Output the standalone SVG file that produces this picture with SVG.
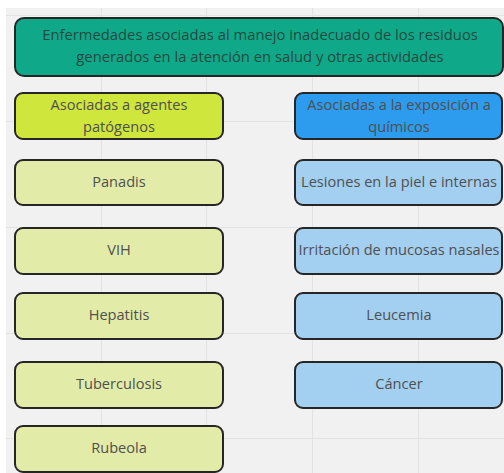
<svg xmlns="http://www.w3.org/2000/svg" width="504" height="473" viewBox="0 0 504 473">
<style>
.box{stroke:#262626;stroke-width:2}
.t{font-family:"Open Sans","Liberation Sans",sans-serif;font-size:14.6px;text-anchor:middle;fill:#505050}
.tt{fill:#234a3f;font-size:14.8px}
.grid{stroke:#e2e2e2;stroke-width:1}
</style>
<rect x="0" y="0" width="504" height="473" fill="#ffffff"/>
<rect x="6" y="8" width="498" height="465" fill="#f1f1f1"/>
<g class="grid">
<line x1="101.5" y1="8" x2="101.5" y2="473"/>
<line x1="206.5" y1="8" x2="206.5" y2="473"/>
<line x1="312.5" y1="8" x2="312.5" y2="473"/>
<line x1="418.5" y1="8" x2="418.5" y2="473"/>
<line x1="6" y1="15.5" x2="504" y2="15.5"/>
<line x1="6" y1="121.5" x2="504" y2="121.5"/>
<line x1="6" y1="227.5" x2="504" y2="227.5"/>
<line x1="6" y1="333.5" x2="504" y2="333.5"/>
<line x1="6" y1="438.5" x2="504" y2="438.5"/>
</g>
<g id="title">
<rect class="box" x="15" y="18" width="488" height="58" rx="9" fill="#0fa98a"/>
<text class="t tt" x="260" y="40">Enfermedades asociadas al manejo inadecuado de los residuos</text>
<text class="t tt" x="260" y="62">generados en la atención en salud y otras actividades</text>
</g>
<g id="hdr-left">
<rect class="box" x="15" y="93" width="208" height="46" rx="8" fill="#cfe63c"/>
<text class="t" x="119" y="110">Asociadas a agentes</text>
<text class="t" x="119" y="132">patógenos</text>
</g>
<g id="hdr-right">
<rect class="box" x="295" y="93" width="207" height="46" rx="8" fill="#2d9bee"/>
<text class="t" x="399" y="110">Asociadas a la exposición a</text>
<text class="t" x="399" y="132">químicos</text>
</g>
<g id="panadis"><rect class="box" x="15" y="160" width="208" height="45" rx="8" fill="#e2eca8"/><text class="t" x="119" y="187">Panadis</text></g>
<g id="vih"><rect class="box" x="15" y="228" width="208" height="46" rx="8" fill="#e2eca8"/><text class="t" x="119" y="255">VIH</text></g>
<g id="hepatitis"><rect class="box" x="15" y="293" width="208" height="46" rx="8" fill="#e2eca8"/><text class="t" x="119" y="320">Hepatitis</text></g>
<g id="tuberculosis"><rect class="box" x="15" y="362" width="208" height="46" rx="8" fill="#e2eca8"/><text class="t" x="119" y="389">Tuberculosis</text></g>
<g id="rubeola"><rect class="box" x="15" y="426" width="208" height="46" rx="8" fill="#e2eca8"/><text class="t" x="119" y="453">Rubeola</text></g>
<g id="lesiones"><rect class="box" x="295" y="160" width="207" height="45" rx="8" fill="#a3cff0"/><text class="t" x="399" y="187">Lesiones en la piel e internas</text></g>
<g id="irritacion"><rect class="box" x="295" y="228" width="207" height="46" rx="8" fill="#a3cff0"/><text class="t" x="399" y="255">Irritación de mucosas nasales</text></g>
<g id="leucemia"><rect class="box" x="295" y="293" width="207" height="46" rx="8" fill="#a3cff0"/><text class="t" x="399" y="320">Leucemia</text></g>
<g id="cancer"><rect class="box" x="295" y="362" width="207" height="46" rx="8" fill="#a3cff0"/><text class="t" x="399" y="389">Cáncer</text></g>
<g id="connectors"></g>
</svg>
